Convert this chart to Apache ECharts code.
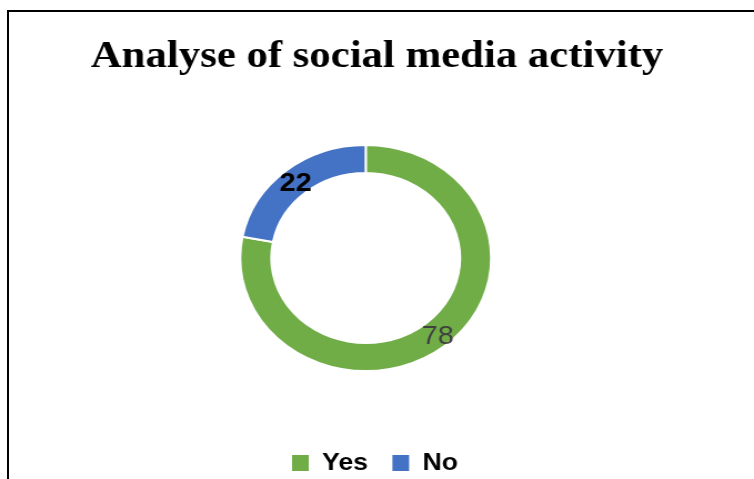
<!DOCTYPE html>
<html>
<head>
<meta charset="utf-8">
<script src="https://cdn.jsdelivr.net/npm/echarts@6/dist/echarts.min.js"></script>
<style>
  html, body { margin: 0; padding: 0; background: #fff; overflow: hidden; }
  #frame { position: absolute; left: 0; top: 0; width: 754px; height: 479px; }
  #edge { position: absolute; left: 7px; top: 10px; width: 760px; height: 480px;
          border-left: 2px solid #000; border-top: 2px solid #000; }
  #chart { position: absolute; left: 0; top: 0; width: 679px; height: 479px;
           transform: scaleX(1.1105); transform-origin: 0 0; }
</style>
</head>
<body>
<div id="frame">
  <div id="edge"></div>
  <div id="chart"></div>
</div>
<script>
// Share of respondents active on social media
const titleText = 'Analyse of social media activity';
const categories = ['Yes', 'No'];
const values = [78, 22];
const colors = ['#70AD47', '#4472C4'];
const labelStyles = [
  { color: '#404040', fontWeight: 'normal', fontSize: 26, offset: [0, 0] },
  { color: '#000000', fontWeight: 'bold', fontSize: 26, offset: [2, 4] }
];

const chart = echarts.init(document.getElementById('chart'), null, { renderer: 'canvas' });

const data = categories.map((name, i) => ({
  name: name,
  value: values[i],
  itemStyle: { color: colors[i] },
  label: Object.assign({ fontFamily: 'Liberation Sans, Arial, sans-serif' }, labelStyles[i])
}));

chart.setOption({
  animation: false,
  title: {
    text: titleText,
    left: 'center',
    top: 33,
    textStyle: {
      fontFamily: 'Liberation Serif, Times New Roman, serif',
      fontWeight: 'bold',
      fontSize: 38.5,
      color: '#000'
    }
  },
  legend: {
    data: categories,
    top: 446,
    left: 256,
    itemWidth: 17,
    itemHeight: 18,
    itemGap: 20,
    icon: 'rect',
    textStyle: {
      fontFamily: 'Liberation Sans, Arial, sans-serif',
      fontWeight: 'bold',
      fontSize: 24,
      color: '#000',
      padding: [0, 0, 0, 6]
    }
  },
  series: [{
    type: 'pie',
    center: [329.3, 258],
    radius: [85, 113],
    startAngle: 90,
    clockwise: true,
    avoidLabelOverlap: false,
    itemStyle: { borderColor: '#fff', borderWidth: 2 },
    label: {
      show: true,
      position: 'inside',
      formatter: '{c}'
    },
    labelLine: { show: false },
    emphasis: { disabled: true },
    data: data
  }]
});
</script>
</body>
</html>
